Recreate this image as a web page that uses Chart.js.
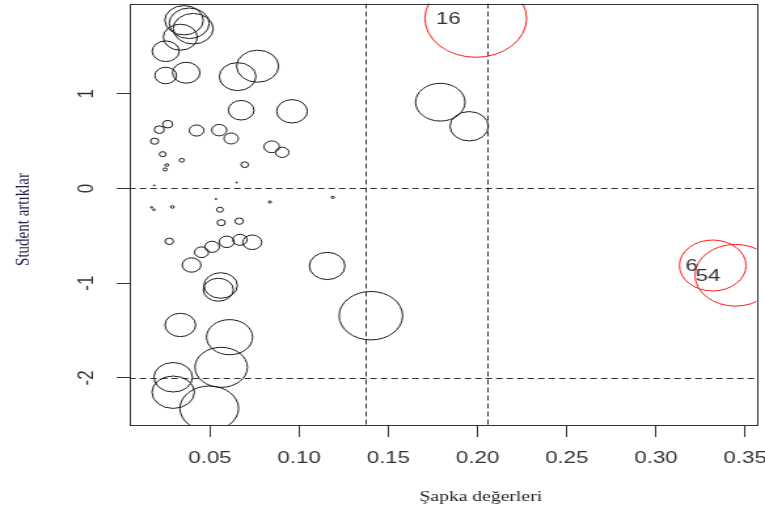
<!DOCTYPE html>
<html>
<head>
<meta charset="utf-8">
<script src="https://cdn.jsdelivr.net/npm/chart.js@4.4.1/dist/chart.umd.min.js"></script>
<style>
  html, body { margin: 0; padding: 0; background: #fff; overflow: hidden; }
  /* the reference is an R influence plot stretched sideways, so circles come out as ellipses */
  #wrap { width: 584px; height: 523px; transform-origin: 0 0; transform: scaleX(1.30993); }
</style>
</head>
<body>
<div id="wrap"><canvas id="influence" width="584" height="523"></canvas></div>
<script>
// hat values, studentized residuals and Cook's distances
const hatValues = [
  0.0355, 0.0384, 0.0406, 0.0334, 0.0252, 0.0252, 0.0367, 0.0655, 0.0767, 0.0675,
  0.0960, 0.0263, 0.0216, 0.0190, 0.0235, 0.0258, 0.0249, 0.0342, 0.0425, 0.0552,
  0.0619, 0.0846, 0.0905, 0.0695, 0.0188, 0.0650, 0.0173, 0.0186, 0.0289, 0.0534,
  0.0836, 0.1188, 0.0556, 0.0563, 0.0664, 0.0272, 0.0397, 0.0453, 0.0512, 0.0594,
  0.0668, 0.0737, 0.0560, 0.0547, 0.0334, 0.0610, 0.0563, 0.0294, 0.0294, 0.0496,
  0.1157, 0.1402, 0.1791, 0.1953
];
const studRes = [
  1.776, 1.744, 1.687, 1.597, 1.449, 1.193, 1.222, 1.181, 1.291, 0.826,
  0.815, 0.679, 0.621, 0.499, 0.362, 0.248, 0.201, 0.298, 0.612, 0.616,
  0.528, 0.440, 0.382, 0.251, 0.032, 0.063, -0.199, -0.224, -0.195, -0.111,
  -0.143, -0.093, -0.224, -0.361, -0.345, -0.558, -0.808, -0.673, -0.616, -0.563,
  -0.542, -0.568, -1.024, -1.069, -1.441, -1.570, -1.888, -1.993, -2.151, -2.322,
  -0.818, -1.343, 0.911, 0.657
];
const cookD = [
  0.0714, 0.0775, 0.0775, 0.0560, 0.0353, 0.0226, 0.0364, 0.0649, 0.0854, 0.0317,
  0.0453, 0.0048, 0.0048, 0.0031, 0.0021, 0.0006, 0.0008, 0.0012, 0.0103, 0.0109,
  0.0100, 0.0115, 0.0087, 0.0027, 0.0001, 0.0001, 0.0002, 0.0003, 0.0006, 0.0001,
  0.0004, 0.0004, 0.0021, 0.0031, 0.0034, 0.0034, 0.0171, 0.0095, 0.0103, 0.0109,
  0.0100, 0.0175, 0.0540, 0.0436, 0.0453, 0.1025, 0.1330, 0.0722, 0.0871, 0.1663,
  0.0614, 0.1947, 0.1182, 0.0714
];

// observations flagged in red
const flaggedIds = ['16', '6', '54'];
const flaggedHat = [0.1990, 0.3318, 0.3445];
const flaggedRes = [1.795, -0.813, -0.916];
const flaggedCook = [0.5, 0.2149, 0.3162];

const xTicks = [0.05, 0.10, 0.15, 0.20, 0.25, 0.30, 0.35];
const yTicks = [-2, -1, 0, 1];
const hatCuts = [0.1372, 0.2058];
const resCuts = [-2, 0, 2];

// circle radius grows with sqrt of Cook's distance
const cookRadius = d => 54.9 * Math.sqrt(d);

const plainPoints = hatValues.map((h, i) => ({ x: h, y: studRes[i], r: cookRadius(cookD[i]) }));
const redPoints = flaggedHat.map((h, i) => ({ x: h, y: flaggedRes[i], r: cookRadius(flaggedCook[i]) }));

const inkColor = '#333';

// no extra room for half tick labels, the frame sits where R put it
function noPad(s) {
  s.paddingTop = 0; s.paddingBottom = 0; s.paddingLeft = 0; s.paddingRight = 0;
}

const refLines = {
  id: 'refLines',
  beforeDatasetsDraw(chart) {
    const { ctx, chartArea: a, scales: { x, y } } = chart;
    ctx.save();
    ctx.beginPath();
    ctx.rect(a.left, a.top, a.width, a.height);
    ctx.clip();
    ctx.strokeStyle = inkColor;
    ctx.lineWidth = 1;
    ctx.setLineDash([5, 3]);
    resCuts.forEach(v => {
      const py = Math.round(y.getPixelForValue(v)) + 0.5;
      ctx.beginPath(); ctx.moveTo(a.left, py); ctx.lineTo(a.right, py); ctx.stroke();
    });
    hatCuts.forEach(v => {
      const px = Math.round(x.getPixelForValue(v)) + 0.5;
      ctx.beginPath(); ctx.moveTo(px, a.top); ctx.lineTo(px, a.bottom); ctx.stroke();
    });
    ctx.restore();
  },
  afterDraw(chart) {
    const { ctx, chartArea: a, scales: { x, y } } = chart;
    ctx.save();
    // frame
    ctx.strokeStyle = inkColor;
    ctx.lineWidth = 1;
    ctx.strokeRect(Math.round(a.left) + 0.5, Math.round(a.top) + 0.5,
      Math.round(a.right) - Math.round(a.left), Math.round(a.bottom) - Math.round(a.top));
    // point labels, left of the flagged circles
    ctx.fillStyle = '#333';
    ctx.font = '17px "Liberation Sans", Arial, sans-serif';
    ctx.textAlign = 'right';
    ctx.textBaseline = 'middle';
    flaggedIds.forEach((id, i) => {
      ctx.fillText(id, x.getPixelForValue(flaggedHat[i]) - 11.5, y.getPixelForValue(flaggedRes[i]) + 1);
    });
    // axis titles
    ctx.font = '15px "Liberation Serif", "Times New Roman", serif';
    ctx.textAlign = 'center';
    ctx.fillStyle = '#222';
    ctx.fillText('Şapka değerleri', 367, 497);
    ctx.fillStyle = '#1e1e48';
    ctx.translate(18.5, 219.5);
    ctx.rotate(-Math.PI / 2);
    ctx.fillText('Student artıklar', 0, 0);
    ctx.restore();
  }
};

new Chart(document.getElementById('influence'), {
  type: 'bubble',
  data: {
    datasets: [
      {
        data: plainPoints,
        backgroundColor: 'rgba(0,0,0,0)',
        borderColor: '#1a1a1a',
        borderWidth: 1,
        clip: 0,
      },
      {
        data: redPoints,
        backgroundColor: 'rgba(0,0,0,0)',
        borderColor: '#ff1a1a',
        borderWidth: 1,
        clip: 0,
      },
    ],
  },
  options: {
    responsive: false,
    animation: false,
    events: [],
    layout: { autoPadding: false, padding: { top: 3.5, right: 6.4, left: 0, bottom: 0 } },
    plugins: { legend: { display: false }, tooltip: { enabled: false } },
    scales: {
      x: {
        type: 'linear',
        min: 0.0048,
        max: 0.3564,
        afterBuildTicks: s => { s.ticks = xTicks.map(v => ({ value: v })); },
        afterFit: s => { s.height = 98; noPad(s); },
        grid: { drawOnChartArea: false, tickLength: 12, color: inkColor },
        border: { display: false },
        ticks: {
          padding: 11,
          color: '#333',
          autoSkip: false,
          maxRotation: 0,
          font: { family: '"Liberation Sans", Arial, sans-serif', size: 17 },
          callback: v => v.toFixed(2),
        },
      },
      y: {
        type: 'linear',
        min: -2.497,
        max: 1.953,
        afterBuildTicks: s => { s.ticks = yTicks.map(v => ({ value: v })); },
        afterFit: s => { s.width = 98.7; noPad(s); },
        grid: { drawOnChartArea: false, tickLength: 9.6, color: inkColor },
        border: { display: false },
        ticks: {
          padding: 15,
          color: '#333',
          minRotation: 90,
          maxRotation: 90,
          crossAlign: 'center',
          font: { family: '"Liberation Sans", Arial, sans-serif', size: 17 },
          callback: v => String(v),
        },
      },
    },
  },
  plugins: [refLines],
});
</script>
</body>
</html>
